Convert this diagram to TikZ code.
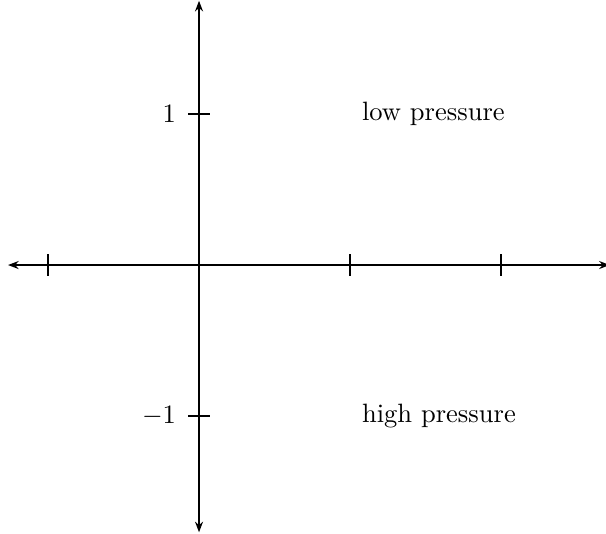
\documentclass[tikz,border=0pt]{standalone}
\usepackage{amsmath,amssymb}
\usepackage{xcolor}
\usetikzlibrary{arrows.meta,positioning}
\tikzset{
  axisline/.style={{Stealth[length=4pt,width=3pt]}-{Stealth[length=4pt,width=3pt]},thick,draw=black},
  tickmark/.style={thick,draw=black},
  ticklabel/.style={left=4pt,inner sep=0.5pt,font=\normalsize},
  regionlabel/.style={right,xshift=1pt,font=\normalsize}
}

\begin{document}
\begin{tikzpicture}[x=2cm,y=2cm]
\useasboundingbox (-1.318,-1.781) rectangle (2.695,1.755);
\coordinate (o) at (0,0);
\coordinate (xl) at (-1.265,0);
\coordinate (xr) at (2.72,0);
\coordinate (yt) at (0,1.75);
\coordinate (yb) at (0,-1.77);
\draw[axisline] (xl)--(xr);
\draw[axisline] (yb)--(yt);
% ticks on the horizontal axis
\foreach \x in {-1,1,2}{
  \draw[tickmark] (\x,0) ++(0,-4pt) -- ++(0,8pt);
}
% ticks on the vertical axis
\foreach \y/\lbl in {1/1,-1/-1}{
  \coordinate (t\y) at (0,\y);
  \draw[tickmark] (t\y) ++(-4pt,0) coordinate (tl\y) -- ++(8pt,0);
  \node[ticklabel] (n\y) at (tl\y) {$\lbl$};
}
\node[regionlabel] (low) at (1,1) {low pressure};
\node[regionlabel] (high) at (1,-1) {high pressure};
\end{tikzpicture}
\end{document}
